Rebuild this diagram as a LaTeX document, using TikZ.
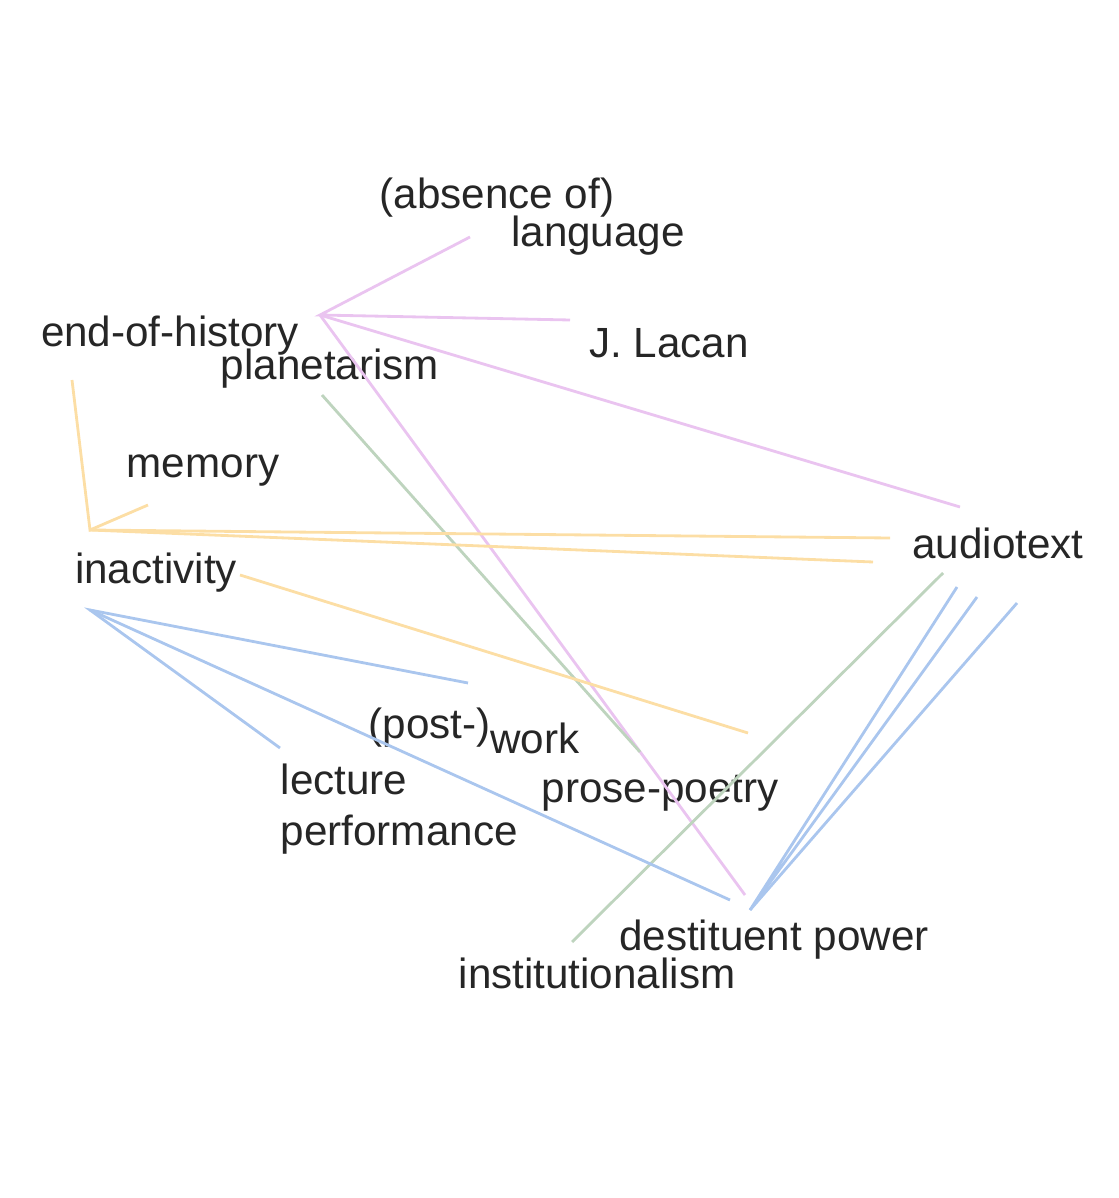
\documentclass[tikz,border=0pt]{standalone}
\usepackage{fontspec}
\setmainfont{Liberation Sans}
\definecolor{pinkline}{RGB}{234,196,240}
\definecolor{yellowline}{RGB}{252,222,165}
\definecolor{greenline}{RGB}{190,212,190}
\definecolor{blueline}{RGB}{170,198,238}
\begin{document}
\begin{tikzpicture}[x=0.01cm,y=-0.01cm,
    every node/.style={font=\fontsize{12}{14.6}\selectfont,inner sep=0pt,text=black!85},
    link/.style={line width=0.8pt}]
    \useasboundingbox (0,0) rectangle (1118,1198);
    \node (absence)  at (497,198) {(absence of)};
    \node (language) at (598,236) {language};
    \node (history)  at (170,336) {end-of-history};
    \node (planet)   at (330,369) {planetarism};
    \node (lacan)    at (669,343) {J. Lacan};
    \node (memory)   at (203,471) {memory};
    \node (inact)    at (156,573) {inactivity};
    \node (audio)    at (998,543) {audiotext};
    \node (postwork) at (474,731) {(post-)\raisebox{-4.5pt}{work}};
    \node[anchor=west,align=left] (lecture) at (280,809) {lecture\\performance};
    \node (prose)    at (660,793) {prose-poetry};
    \node (destit)   at (774,940) {destituent power};
    \node (instit)   at (597,973) {institutionalism};
    \coordinate (hubpink)    at (320,315);
    \coordinate (langend)    at (470,237);
    \coordinate (lacanend)   at (570,320);
    \coordinate (audiopink)  at (960,507);
    \coordinate (destitpink) at (745,895);
    \coordinate (planetgreen) at (322,395);
    \coordinate (prosegreen)  at (640,752);
    \coordinate (audiogreen)  at (943,573);
    \coordinate (institgreen) at (572,942);
    \coordinate (historyyel) at (72,380);
    \coordinate (hubyel)     at (90,530);
    \coordinate (memoryyel)  at (148,505);
    \coordinate (audioyelA)  at (890,538);
    \coordinate (audioyelB)  at (873,562);
    \coordinate (inactyel)   at (240,575);
    \coordinate (proseyel)   at (748,733);
    \coordinate (hubblue)     at (90,610);
    \coordinate (workblue)    at (468,683);
    \coordinate (lectureblue) at (280,748);
    \coordinate (destitblue)  at (730,900);
    \coordinate (hubdestit)   at (750,910);
    \coordinate (audioblueA)  at (957,587);
    \coordinate (audioblueB)  at (977,597);
    \coordinate (audioblueC)  at (1017,603);
    \draw[link,pinkline] (langend) -- (hubpink) -- (lacanend);
    \draw[link,pinkline] (hubpink) -- (audiopink);
    \draw[link,pinkline] (hubpink) -- (destitpink);
    \draw[link,greenline] (planetgreen) -- (prosegreen);
    \draw[link,greenline] (audiogreen) -- (institgreen);
    \draw[link,yellowline] (historyyel) -- (hubyel) -- (memoryyel);
    \draw[link,yellowline] (hubyel) -- (audioyelA);
    \draw[link,yellowline] (hubyel) -- (audioyelB);
    \draw[link,yellowline] (inactyel) -- (proseyel);
    \draw[link,blueline] (workblue) -- (hubblue) -- (lectureblue);
    \draw[link,blueline] (hubblue) -- (destitblue);
    \draw[link,blueline] (audioblueA) -- (hubdestit) -- (audioblueB);
    \draw[link,blueline] (hubdestit) -- (audioblueC);
  \end{tikzpicture}
\end{document}
